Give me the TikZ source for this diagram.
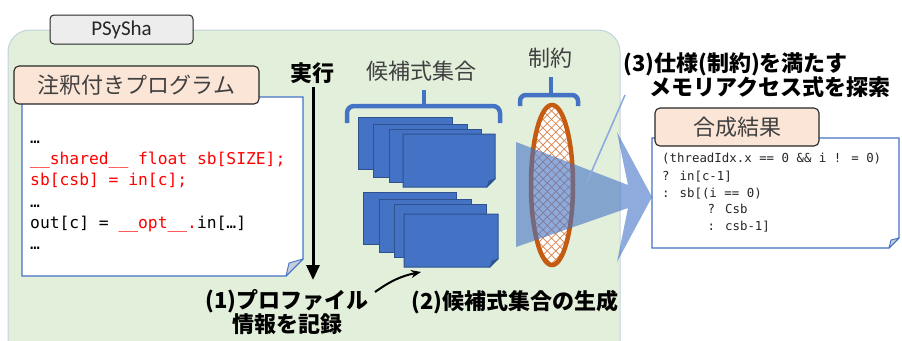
\documentclass[tikz,border=0pt]{standalone}
\usepackage{fontspec}
\setmainfont{Carlito}
\newfontfamily\jpfont{Noto Sans CJK JP}
\newfontfamily\codefont{DejaVu Sans Mono}
\usetikzlibrary{arrows.meta,patterns.meta}
\definecolor{panelgreen}{HTML}{E2EFDA}
\definecolor{panelborder}{HTML}{C3D3DD}
\definecolor{tabgray}{HTML}{EDEDED}
\definecolor{darkline}{HTML}{262626}
\definecolor{peach}{HTML}{FBE5D6}
\definecolor{docblue}{HTML}{4472C4}
\definecolor{darkblue}{HTML}{2F528F}
\definecolor{foldgray}{HTML}{C5CCDA}
\definecolor{ellorange}{HTML}{C55A11}
\definecolor{patorange}{HTML}{D9814A}
\definecolor{calloutblue}{HTML}{8FAADC}
\definecolor{textgray}{HTML}{404040}
\definecolor{codered}{HTML}{FF0000}
\tikzset{
  panelbox/.style={fill=panelgreen,draw=panelborder,line width=1pt,rounded corners=22pt},
  tabbox/.style={fill=tabgray,draw=darkline,line width=1pt,rounded corners=4pt},
  peachbox/.style={fill=peach,draw=darkline,line width=1.1pt,rounded corners=5pt},
  docline/.style={fill=white,draw=docblue,line width=1.1pt},
  foldfill/.style={fill=foldgray,draw=docblue,line width=0.9pt,line join=round},
  cardfill/.style={fill=docblue,draw=darkblue,line width=1pt},
  cardfold/.style={fill=darkblue,draw=darkblue,line width=0.6pt},
  bracestyle/.style={draw=docblue,line width=4.5pt},
  execarrow/.style={draw=black,line width=3pt,-{Triangle[length=15pt,width=13pt]}},
  curvearrow/.style={draw=black,line width=2pt,-{Stealth[length=10pt,width=8pt]}},
  bigarrow/.style={fill=docblue,fill opacity=0.6,draw=none},
  calloutline/.style={draw=calloutblue,line width=1.6pt},
  jplabel/.style={inner sep=0pt,font=\jpfont\fontsize{22pt}{26pt}\selectfont,text=textgray},
  jpbold/.style={inner sep=0pt,font=\jpfont\bfseries\fontsize{22pt}{24pt}\selectfont,text=black},
  codeL/.style={inner sep=0pt,anchor=base west,font=\codefont\fontsize{16.3pt}{20pt}\selectfont,text=black},
  codeR/.style={inner sep=0pt,anchor=base west,font=\codefont\fontsize{12.4pt}{15pt}\selectfont,text=darkline},
}
\begin{document}
\begin{tikzpicture}[x=1pt,y=-1pt]
\useasboundingbox (0,0) rectangle (902,340);
% green panel
\begin{scope}
\clip (0,0) rectangle (902,340);
\draw[panelbox] (8,30) rectangle (620,390);
\end{scope}
% PSySha tab
\draw[tabbox] (50,15) rectangle (193,44);
\node[inner sep=0pt,font=\fontsize{21pt}{24pt}\selectfont,text=darkline] (tab) at (121.5,30) {PSySha};

% left document
\draw[docline] (22,97) -- (303,97) -- (303,259) -- (286,276) -- (22,276) -- cycle;
\draw[foldfill] (303,259) -- (289,263) -- (286,276) -- cycle;
\draw[peachbox] (14,66) rectangle (259,104);
\node[jplabel] (annot) at (136.5,85) {注釈付きプログラム};
\node[codeL] (l1) at (30,143) {…};
\node[codeL,text=codered] (l2) at (30,164) {\_\_shared\_\_ float sb[SIZE];};
\node[codeL,text=codered] (l3) at (30,185.5) {sb[csb] = in[c];};
\node[codeL] (l4) at (30,207) {…};
\node[codeL] (l5) at (30,228) {out[c] = \textcolor{codered}{\_\_opt\_\_.}in[…]};
\node[codeL] (l6) at (30,249) {…};

% execution arrow
\node[jpbold] (exec) at (312,73) {実行};
\coordinate (execA) at (313,87);
\coordinate (execB) at (313,280);
\draw[execarrow] (execA) -- (execB);

% braces
\draw[bracestyle,rounded corners=7pt] (347,123) -- (347,106) -- (500,106) -- (500,123);
\draw[bracestyle] (424,106) -- (424,90);
\draw[bracestyle,rounded corners=6pt] (520,106) -- (520,95) -- (578,95) -- (578,106);
\draw[bracestyle] (551,95) -- (551,77);
\node[jplabel] (cands) at (421,71) {候補式集合};
\node[jplabel] (cons) at (550,58) {制約};

% candidate cards, group 1
\draw[cardfill] (358,117) rectangle (452,169);
\draw[cardfill] (373,124) rectangle (467,177);
\draw[cardfill] (389,129) rectangle (481,182);
\draw[cardfill] (403,134) -- (495,134) -- (495,179) -- (487,187) -- (403,187) -- cycle;
\draw[cardfold] (495,179) -- (489,181) -- (487,187) -- cycle;
% group 2
\draw[cardfill] (363,192) rectangle (456,244);
\draw[cardfill] (379,199) rectangle (471,252);
\draw[cardfill] (394,204) rectangle (486,257);
\draw[cardfill] (404,214) -- (498,214) -- (498,259) -- (490,267) -- (404,267) -- cycle;
\draw[cardfold] (498,259) -- (492,261) -- (490,267) -- cycle;

% constraint ellipse
\fill[white] (552,185) ellipse [x radius=21pt,y radius=80pt];
\fill[pattern={Lines[angle=45,distance=6pt,line width=0.7pt]},pattern color=patorange] (552,185) ellipse [x radius=21pt,y radius=80pt];
\fill[pattern={Lines[angle=-45,distance=6pt,line width=0.7pt]},pattern color=patorange] (552,185) ellipse [x radius=21pt,y radius=80pt];
\draw[draw=ellorange,line width=4.5pt] (552,185) ellipse [x radius=21pt,y radius=80pt];

% right document
\draw[docline] (652,138) -- (899,138) -- (899,238) -- (889,248) -- (652,248) -- cycle;
\draw[foldfill] (899,238) -- (891,240) -- (889,248) -- cycle;
\draw[peachbox] (655,108) rectangle (819,146);
\node[jplabel] (result) at (737,127) {合成結果};
\node[codeR] (r1) at (662,162.5) {(threadIdx.x == 0 \&\& i ! = 0)};
\node[codeR] (r2) at (662,180) {? in[c-1]};
\node[codeR] (r3) at (662,197) {: sb[(i == 0)};
\node[codeR] (r4) at (707.5,213.5) {? Csb};
\node[codeR] (r5) at (707.5,230.5) {: csb-1]};

% big translucent arrow
\fill[bigarrow] (516,142) -- (628,185) -- (617,132) -- (652,197) -- (617,262) -- (628,208) -- (516,247) -- cycle;

% step labels
\node[jpbold,anchor=west,align=left] (search) at (623,75.5) {(3)仕様(制約)を満たす\\\hspace*{26pt}メモリアクセス式を探索};
\coordinate (calloutA) at (625,95);
\coordinate (calloutB) at (587,182);
\draw[calloutline] (calloutA) -- (calloutB);

\node[jpbold,align=center] (prof) at (287,312.5) {(1)プロファイル\\情報を記録};
\coordinate (curveA) at (375,292);
\coordinate (curveB) at (421,272);
\draw[curvearrow] (curveA) to[bend left=12] (curveB);

\node[jpbold,anchor=west] (gen) at (411,302) {(2)候補式集合の生成};
\end{tikzpicture}
\end{document}
